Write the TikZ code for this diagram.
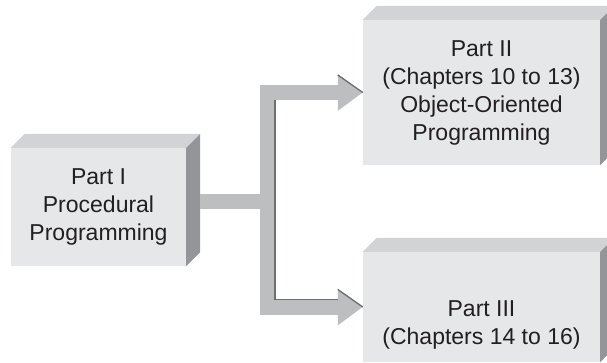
\documentclass[tikz,border=0pt]{standalone}
\usepackage{fontspec}
\setmainfont{Liberation Sans}
\usepackage{tikz}
\usetikzlibrary{arrows.meta}
\usetikzlibrary{calc}
\usepackage{xcolor}
\definecolor{frontgray}{RGB}{230,231,232}
\definecolor{topgray}{RGB}{209,211,212}
\definecolor{sidegray}{RGB}{147,149,152}
\definecolor{pipegray}{RGB}{188,190,192}
\definecolor{edgegray}{RGB}{109,110,113}
\definecolor{inkgray}{RGB}{35,31,32}

\begin{document}
\begin{tikzpicture}[x=1pt,y=-1pt]
\tikzset{partbox/.style={fill=frontgray, inner sep=0pt, align=center, text=inkgray,
  font=\fontsize{23pt}{28pt}\selectfont}}
\tikzset{parttext/.style={inner sep=0pt, align=center, text=inkgray,
  font=\fontsize{23pt}{28pt}\selectfont}}
\tikzstyle{pipe} = [line width=15pt, pipegray]
\tikzstyle{myarrowstyle} = [-{Triangle[length=25pt,width=35pt]}]
\tikzstyle{edgeline} = [line width=1.3pt, edgegray]

\useasboundingbox (0,0) rectangle (607,362);
\clip (0,0) rectangle (607,362);

\node[partbox, minimum width=175pt, minimum height=118pt] (p1) at (98.5,207) {Part I\\Procedural\\Programming};
\node[partbox, minimum width=237pt, minimum height=145pt] (p2) at (481.5,92.5) {Part II\\(Chapters 10 to 13)\\Object-Oriented\\Programming};
\node[partbox, minimum width=237pt, minimum height=110pt] (p3) at (481.5,307) {};
\node[parttext] (t3) at (481.5,325) {Part III\\(Chapters 14 to 16)};

\foreach \b in {p1,p2,p3} {
  \fill[topgray] (\b.north west) -- ++(14pt,14pt) -- ([shift={(14pt,14pt)}]\b.north east) -- (\b.north east) -- cycle;
  \fill[sidegray] (\b.north east) -- ++(14pt,14pt) -- ([shift={(14pt,14pt)}]\b.south east) -- (\b.south east) -- cycle;
}

\coordinate (fork) at (267.5,201);
\coordinate (v1) at (fork |- p2.west);
\coordinate (v2) at (fork |- p3.west);

\draw [pipe] ([xshift=14pt]p1.east |- fork) -- (fork);
\draw [pipe,myarrowstyle] (fork) |- (p2.west);
\draw [pipe,myarrowstyle] (fork) |- (p3.west);

\draw [edgeline] ([shift={(7.5pt,-7.5pt)}]v1) -- ([shift={(7.5pt,7.5pt)}]v2) -- ([shift={(-25pt,7.5pt)}]p3.west);
\draw [edgeline] ([shift={(-25pt,17.5pt)}]p2.west) -- (p2.west);
\draw [edgeline] ([shift={(-25pt,17.5pt)}]p3.west) -- (p3.west);
\end{tikzpicture}
\end{document}
